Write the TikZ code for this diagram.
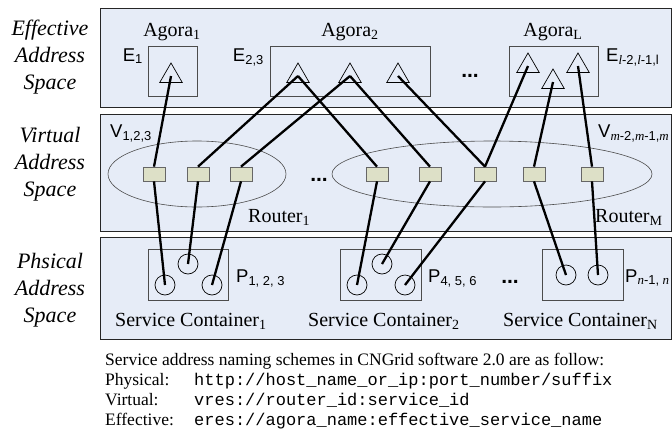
\documentclass[tikz,border=0pt]{standalone}
\usepackage{fontspec}
\setmainfont{Liberation Serif}
\setsansfont{Liberation Sans}
\setmonofont{Liberation Mono}
\usetikzlibrary{shapes.geometric,positioning}
\definecolor{spacebg}{RGB}{230,236,247}
\definecolor{rtrfill}{RGB}{221,224,199}
\tikzset{
  layer/.style={draw=black!85, fill=spacebg, line width=0.8pt},
  grp/.style={draw=black!70, line width=0.7pt},
  tri/.style={draw, regular polygon, regular polygon sides=3, minimum size=26pt, inner sep=0pt, line width=0.7pt},
  rtr/.style={draw=black!60, fill=rtrfill, minimum width=22pt, minimum height=14pt, inner sep=0pt, line width=0.7pt},
  svc/.style={draw, circle, minimum size=20pt, inner sep=0pt, line width=0.7pt},
  link/.style={line width=2.3pt, black},
  side/.style={font=\fontsize{22}{27}\selectfont\itshape, align=center, inner sep=0pt},
  tag/.style={font=\fontsize{20}{22}\selectfont, inner sep=0pt},
  lab/.style={font=\fontsize{18.5}{20}\sffamily, inner sep=0pt},
  dots/.style={font=\fontsize{21}{21}\sffamily\bfseries, inner sep=0pt},
  note/.style={font=\fontsize{17.5}{20}\selectfont, inner sep=0pt},
  code/.style={font=\fontsize{17}{20}\ttfamily, inner sep=0pt},
}
\newcommand{\idx}[1]{{\rmfamily\itshape #1}}

\begin{document}
\begin{tikzpicture}[x=1pt, y=-1pt]
\useasboundingbox (0,0) rectangle (672,437);

% the three address spaces
\draw[layer] (100,8) rectangle (671,107);
\draw[layer] (100,114) rectangle (671,231);
\draw[layer] (100,237) rectangle (671,339);

\node[side] (effl) at (50,57) {Effective\\Address\\Space};
\node[side] (virl) at (50,164) {Virtual\\Address\\Space};
\node[side] (phyl) at (50,290) {Phsical\\Address\\Space};

% effective layer: agoras
\draw[grp] (148,46) rectangle (197,96);
\draw[grp] (270,46) rectangle (430,96);
\draw[grp] (509,46) rectangle (598,96);

\node[tag, anchor=base] (ag1) at (172,36) {Agora\textsubscript{1}};
\node[tag, anchor=base] (ag2) at (350,36) {Agora\textsubscript{2}};
\node[tag, anchor=base] (agL) at (553,36) {Agora\textsubscript{L}};

\node[lab, anchor=base east] (e1) at (143,61) {E\textsubscript{1}};
\node[lab, anchor=base east] (e23) at (264,61) {E\textsubscript{2,3}};
\node[lab, anchor=base west] (eL) at (606,61) {E\textsubscript{\idx{l}-2,\idx{l}-1,l}};
\node[dots] (edots) at (470,76) {...};

\node[tri] (t1) at (171,76) {};
\node[tri] (t2) at (298,76) {};
\node[tri] (t3) at (350,76) {};
\node[tri] (t4) at (398,76) {};
\node[tri] (t5) at (528,66) {};
\node[tri] (t6) at (553,82) {};
\node[tri] (t7) at (578,66) {};

% virtual layer: routers
\draw[grp, line width=0.6pt] (197,174) ellipse [x radius=89, y radius=33];
\draw[grp, line width=0.6pt] (492,174) ellipse [x radius=160, y radius=33];

\node[lab, anchor=base west] (v1) at (110,137) {V\textsubscript{1,2,3}};
\node[lab, anchor=base west] (vm) at (598,137) {V\textsubscript{\idx{m}-2,\idx{m}-1,\idx{m}}};
\node[tag, anchor=base west] (rt1) at (248,222) {Router\textsubscript{1}};
\node[tag, anchor=base west] (rtM) at (595,222) {Router\textsubscript{M}};
\node[dots] (vdots) at (319,180) {...};

\foreach \n/\x in {1/154, 2/198, 3/241, 4/377, 5/430, 6/485, 7/534, 8/592}
  \node[rtr] (r\n) at (\x,174) {};

% physical layer: service containers
\draw[grp] (148,249) rectangle (228,300);
\draw[grp] (340,249) rectangle (421,300);
\draw[grp] (542,249) rectangle (623,300);

\node[svc] (c1) at (165,285) {};
\node[svc] (c2) at (188,264) {};
\node[svc] (c3) at (212,285) {};
\node[svc] (c4) at (357,285) {};
\node[svc] (c5) at (382,264) {};
\node[svc] (c6) at (405,285) {};
\node[svc] (c7) at (566,275) {};
\node[svc] (c8) at (598,275) {};

\node[lab, anchor=base west] (p1) at (236,282) {P\textsubscript{1, 2, 3}};
\node[lab, anchor=base west] (p2) at (428,282) {P\textsubscript{4, 5, 6}};
\node[lab, anchor=base west] (pn) at (625,282) {P\textsubscript{\idx{n}-1, \idx{n}}};
\node[dots] (pdots) at (510,282) {...};

\node[tag, anchor=base west] (sc1) at (115,326) {Service Container\textsubscript{1}};
\node[tag, anchor=base west] (sc2) at (308,326) {Service Container\textsubscript{2}};
\node[tag, anchor=base west] (scN) at (503,326) {Service Container\textsubscript{N}};

% mappings between the layers
\foreach \t/\r in {t1/r1, t2/r2, t3/r3, t2/r4, t3/r5, t4/r6, t5/r6, t6/r7, t7/r8}
  \draw[link] (\t.center) -- (\r.north);
\foreach \n in {1,...,8}
  \draw[link] (r\n.south) -- (c\n.center);

% naming schemes
\node[note, anchor=base west] (capt) at (105,365) {Service address naming schemes in CNGrid software 2.0 are as follow:};
\node[note, anchor=base west] (kphy) at (105,385) {Physical:};
\node[note, anchor=base west] (kvir) at (105,405) {Virtual:};
\node[note, anchor=base west] (keff) at (105,425) {Effective:};
\node[code, anchor=base west] (uphy) at (194,385) {http://host\_name\_or\_ip:port\_number/suffix};
\node[code, anchor=base west] (uvir) at (194,405) {vres://router\_id:service\_id};
\node[code, anchor=base west] (ueff) at (194,425) {eres://agora\_name:effective\_service\_name};
\end{tikzpicture}
\end{document}
